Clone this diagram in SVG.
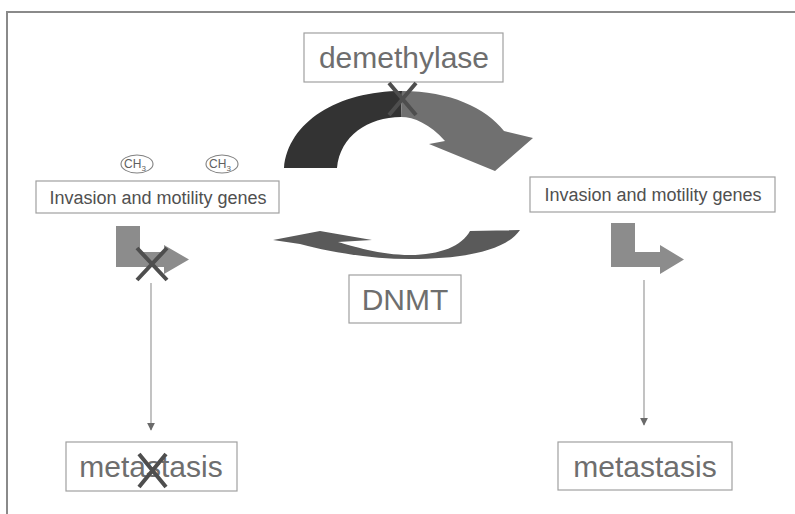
<svg xmlns="http://www.w3.org/2000/svg" width="795" height="514" viewBox="0 0 795 514">
  <defs>
    <style>
      .box { fill: #ffffff; stroke: #a0a0a0; stroke-width: 1.2; }
      .big { font-family: "Liberation Sans", Arial, sans-serif; font-size: 30px; fill: #6e6e6e; text-anchor: middle; }
      .gene { font-family: "Liberation Sans", Arial, sans-serif; font-size: 18px; fill: #505050; text-anchor: middle; }
      .ch { font-family: "Liberation Sans", Arial, sans-serif; font-size: 12px; fill: #606060; text-anchor: middle; }
      .chring { fill: none; stroke: #808080; stroke-width: 1.1; }
      .tss { fill: #8c8c8c; }
      .block { stroke: #4e4e4e; stroke-width: 4; stroke-linecap: butt; fill: none; }
      .flow { stroke: #9a9a9a; stroke-width: 1.2; fill: none; }
    </style>
    <marker id="tip" viewBox="0 0 10 10" refX="9" refY="5" markerWidth="8" markerHeight="8" markerUnits="userSpaceOnUse" orient="auto">
      <path d="M0,0 L10,5 L0,10 Z" fill="#6a6a6a"/>
    </marker>
  </defs>

  <rect width="795" height="514" fill="#ffffff"/>

  <!-- slide frame -->
  <path d="M7,514 L7,12 L795,12" fill="none" stroke="#8a8a8a" stroke-width="2"/>

  <!-- cycle arrows and flow lines -->
  <g id="connectors">
    <!-- demethylation arc: dark rising half, grey falling half with head -->
    <path d="M284,168 C288,122 338,91 402,91 L401,117 C368,117 340,136 337,168 Z" fill="#333333"/>
    <path d="M402,91 C450,91 486,108 504,131 L533,138 L495,171 L429,144 L445,141 C430,124 414,117 401,117 Z" fill="#707070"/>
    <!-- DNMT return arrow -->
    <path d="M520,230 L470,231 C462,246 440,255 410,255 C380,255 352,246 338,242 L372,240 L320,231 L273,240 L300,244 C330,252 370,259 410,259 C460,259 505,252 520,230 Z" fill="#5a5a5a"/>
    <!-- flow to metastasis -->
    <line class="flow" x1="151" y1="283" x2="151" y2="430" marker-end="url(#tip)"/>
    <line class="flow" x1="644" y1="280" x2="644" y2="425" marker-end="url(#tip)"/>
  </g>

  <g id="demethylase">
    <rect class="box" x="304" y="33" width="199" height="49"/>
    <text class="big" x="404" y="68">demethylase</text>
  </g>

  <!-- block mark on the demethylase arc -->
  <g id="arc-block">
    <path class="block" d="M389,83 L416,115 M416,83 L389,115" stroke="#686868" stroke-width="3.5"/>
  </g>

  <g id="dnmt">
    <rect class="box" x="349" y="275" width="112" height="48"/>
    <text class="big" x="405" y="310">DNMT</text>
  </g>

  <g id="methyl-groups">
    <ellipse class="chring" cx="137" cy="164" rx="16" ry="9"/>
    <text class="ch" x="135" y="168">CH<tspan font-size="8" dy="3">3</tspan></text>
    <ellipse class="chring" cx="222" cy="164" rx="16" ry="9"/>
    <text class="ch" x="220" y="168">CH<tspan font-size="8" dy="3">3</tspan></text>
  </g>

  <g id="genes-left">
    <rect class="box" x="36" y="181" width="243" height="32"/>
    <text class="gene" x="158" y="204">Invasion and motility genes</text>
  </g>

  <g id="genes-right">
    <rect class="box" x="530" y="177" width="245" height="35"/>
    <text class="gene" x="653" y="201">Invasion and motility genes</text>
  </g>

  <g id="promoter-left">
    <path class="tss" d="M116,226 L140,226 L140,252 L164,252 L164,245 L189,259.5 L164,274 L164,267 L116,267 Z"/>
    <path class="block" d="M137,248 L167,280 M167,248 L137,280"/>
  </g>

  <g id="promoter-right">
    <path class="tss" d="M611,223 L635,223 L635,252 L660,252 L660,245 L684,259.5 L660,274 L660,267 L611,267 Z"/>
  </g>

  <g id="metastasis-left">
    <rect class="box" x="66" y="442" width="171" height="49"/>
    <text class="big" x="151" y="477">metastasis</text>
    <path class="block" d="M139,454 L166,487 M166,454 L139,487"/>
  </g>

  <g id="metastasis-right">
    <rect class="box" x="558" y="442" width="174" height="48"/>
    <text class="big" x="645" y="477">metastasis</text>
  </g>
</svg>
